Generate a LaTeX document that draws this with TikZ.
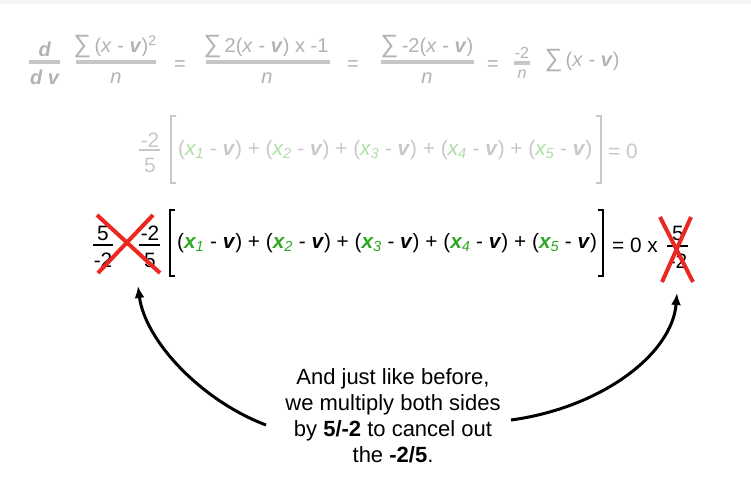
\documentclass[tikz,border=0pt]{standalone}
\usepackage{fontspec}
\setmainfont{Liberation Sans}
\usetikzlibrary{arrows.meta}
\definecolor{fadegrey}{RGB}{178,178,178}
\definecolor{fadebar}{RGB}{198,198,198}
\definecolor{palegrey}{RGB}{200,200,200}
\definecolor{palegreen}{RGB}{176,222,166}
\definecolor{datagreen}{RGB}{46,168,36}
\definecolor{crossred}{RGB}{236,38,32}
\newcommand{\vbold}{\textbf{\textit{v}}}
\newcommand{\bigsum}{{\fontsize{25}{25}\selectfont ∑}\,}
\newcommand{\xsub}[3]{{\color{#1}{#3\itshape x}\textsubscript{\textit{#2}}}}
\newcommand{\sumterms}[2]{(\xsub{#1}{1}{#2} - \vbold) + (\xsub{#1}{2}{#2} - \vbold) + (\xsub{#1}{3}{#2} - \vbold) + (\xsub{#1}{4}{#2} - \vbold) + (\xsub{#1}{5}{#2} - \vbold)}

\begin{document}
\begin{tikzpicture}[x=1pt,y=-1pt]
            \tikzset{eqone/.style={text=fadegrey, inner sep=0pt, font=\fontsize{20}{24}\selectfont}}
            \tikzset{eqsmall/.style={text=fadegrey, inner sep=0pt, font=\fontsize{16}{18}\selectfont}}
            \tikzset{eqtwo/.style={text=palegrey, inner sep=0pt, font=\fontsize{20.8}{26}\selectfont}}
            \tikzset{eqthree/.style={text=black, inner sep=0pt, font=\fontsize{20.8}{26}\selectfont}}
            \tikzset{onebar/.style={line width=3.5pt, fadebar}}
            \tikzset{twobar/.style={line width=2.5pt, palegrey}}
            \tikzset{threebar/.style={line width=2.5pt, black}}
            \tikzset{twobracket/.style={line width=1.8pt, palegrey}}
            \tikzset{threebracket/.style={line width=1.8pt, black}}
            \tikzset{cross/.style={line width=4pt, crossred}}
            \tikzset{curve/.style={line width=3pt, -{Latex[length=12pt,width=10pt]}}}
            \useasboundingbox (0,0) rectangle (751,502);
            \fill[white] (0,0) rectangle (751,502);
            \fill[black!4] (0,0) rectangle (751,4);

            \node[eqone] (dnum) at (45,49) {\textbf{\textit{d}}};
            \node[eqone] (dden) at (45,77) {\textbf{\textit{d v}}};
            \draw[onebar] (29,62) -- (60,62);
            \node[eqone] (sqnum) at (115,47) {\bigsum(\textit{x} - \vbold)\textsuperscript{2}};
            \node[eqone] (sqden) at (116,78) {\textit{n}};
            \draw[onebar] (76,62) -- (156,62);
            \node[eqone] (eqa) at (180,66) {=};
            \node[eqone] (dernum) at (266,47) {\bigsum 2(\textit{x} - \vbold) x -1};
            \node[eqone] (derden) at (267,78) {\textit{n}};
            \draw[onebar] (206,62) -- (330,62);
            \node[eqone] (eqb) at (353,66) {=};
            \node[eqone] (minnum) at (427,47) {\bigsum -2(\textit{x} - \vbold)};
            \node[eqone] (minden) at (427,78) {\textit{n}};
            \draw[onebar] (381,62) -- (474,62);
            \node[eqone] (eqc) at (493,66) {=};
            \node[eqsmall] (facnum) at (522,53) {-2};
            \node[eqsmall] (facden) at (522,74) {\textit{n}};
            \draw[onebar] (514,63) -- (530,63);
            \node[eqone] (facsum) at (582,61) {\bigsum(\textit{x} - \vbold)};

            \node[eqtwo] (fivenum) at (150,140) {-2};
            \node[eqtwo] (fiveden) at (150,165) {5};
            \draw[twobar] (139,150) -- (160,150);
            \draw[twobracket] (176,116) -- (171,116) -- (171,183) -- (176,183);
            \node[eqtwo, anchor=west] (fadeterms) at (178,150) {\sumterms{palegreen}{\mdseries}};
            \draw[twobracket] (596,116) -- (601,116) -- (601,183) -- (596,183);
            \node[eqtwo, anchor=west] (fadezero) at (608,151) {= 0};

            \node[eqthree] (invnum) at (103,233) {5};
            \node[eqthree] (invden) at (103,260) {-2};
            \draw[threebar] (93,245) -- (113,245);
            \node[eqthree] (fracnum) at (150,233) {-2};
            \node[eqthree] (fracden) at (150,260) {5};
            \draw[threebar] (139,245) -- (160,245);
            \draw[threebracket] (175,210) -- (170,210) -- (170,276) -- (175,276);
            \node[eqthree, anchor=west] (terms) at (177,243) {\sumterms{datagreen}{\bfseries}};
            \draw[threebracket] (598,210) -- (603,210) -- (603,276) -- (598,276);
            \node[eqthree, anchor=west] (zero) at (612,245) {= 0 x};
            \node[eqthree] (rinvnum) at (678,233) {5};
            \node[eqthree] (rinvden) at (678,261) {-2};
            \draw[threebar] (667,246) -- (688,246);

            \draw[cross] (97,215) -- (160,273);
            \draw[cross] (153,215) -- (98,273);
            \draw[cross] (660,217) -- (693,282);
            \draw[cross] (691,217) -- (662,282);

            \node[font=\fontsize{22}{26}\selectfont, align=center, inner sep=0pt] (note) at (393,416) {And just like before,\\we multiply both sides\\by \textbf{5/-2} to cancel out\\the \textbf{-2/5}.};
            \coordinate (leftfoot) at (266,425);
            \coordinate (lefttip) at (138,286);
            \coordinate (rightfoot) at (511,420);
            \coordinate (righttip) at (677,293);
            \draw[curve] (leftfoot) .. controls (200,400) and (145,340) .. (lefttip);
            \draw[curve] (rightfoot) .. controls (600,408) and (672,355) .. (righttip);
        \end{tikzpicture}
\end{document}
